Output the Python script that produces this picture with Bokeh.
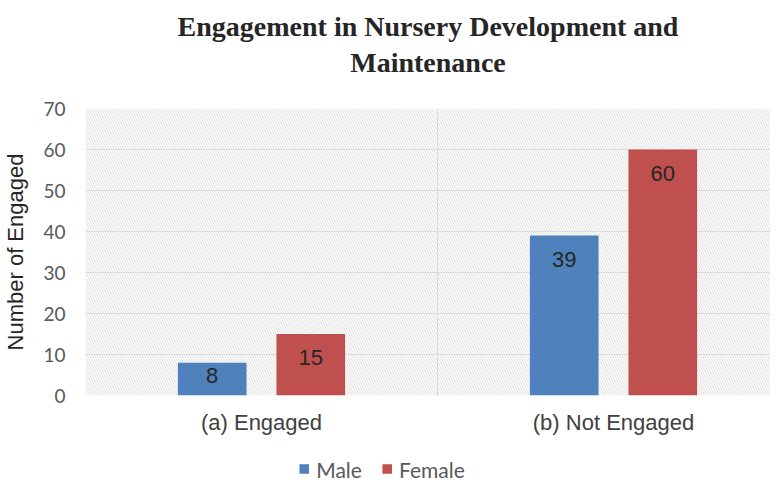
from bokeh.plotting import figure
from bokeh.layouts import column
from bokeh.models import (ColumnDataSource, Range1d, FixedTicker, BoxAnnotation,
                          Legend, LegendItem, LinearAxis)
from bokeh.core.properties import value
from bokeh.embed import file_html
from bokeh.resources import INLINE

# ---- data ----
categories = ["(a) Engaged", "(b) Not Engaged"]
series_names = ["Male", "Female"]
male = [8, 39]
female = [15, 60]
y_ticks = [0, 10, 20, 30, 40, 50, 60, 70]
title_lines = ["Engagement in Nursery Development and", "Maintenance"]
y_label = "Number of Engaged"

# ---- layout constants ----
FRAME_W, FRAME_H = 685, 287
CAT_PX = 352                      # pixel width of one category slot
X_END = FRAME_W / CAT_PX
Y_MAX = 70
colors = ["#4F81BD", "#C0504D"]
offsets = [-0.14, 0.14]
BAR_W = 0.195

p = figure(frame_width=FRAME_W, frame_height=FRAME_H,
           x_range=Range1d(0, X_END), y_range=Range1d(0, Y_MAX),
           output_backend="svg", toolbar_location=None, title=None,
           min_border_left=78, min_border_right=0,
           min_border_top=108, min_border_bottom=60,
           background_fill_color="white", border_fill_color="white",
           outline_line_color=None)

# x axis (category centres) -- configured before any other x axis is added
centers = [i + 0.5 for i in range(len(categories))]
xax = p.below[0]
xax.ticker = FixedTicker(ticks=centers)
xax.major_label_overrides = {c: name for c, name in zip(centers, categories)}
xax.axis_line_color = None
xax.major_tick_line_color = None
xax.minor_tick_line_color = None
xax.major_tick_out = 0
xax.major_label_text_font = "Liberation Sans"
xax.major_label_text_font_size = "22px"
xax.major_label_text_color = "#404040"
xax.major_label_standoff = 14

# two-line centred title, drawn as an unlined axis above the frame
mid = X_END / 2
tax = LinearAxis(ticker=FixedTicker(ticks=[mid]),
                 major_label_overrides={mid: title_lines[1]},
                 axis_label=title_lines[0])
tax.axis_line_color = None
tax.major_tick_line_color = None
tax.minor_tick_line_color = None
tax.major_tick_out = 0
for attr in ("major_label", "axis_label"):
    setattr(tax, attr + "_text_font", "Liberation Serif")
    setattr(tax, attr + "_text_font_size", "28px")
    setattr(tax, attr + "_text_font_style", "bold")
    setattr(tax, attr + "_text_color", "#262626")
tax.major_label_standoff = 31
tax.axis_label_standoff = 2
p.add_layout(tax, "above")

# hatched plot-area background
p.add_layout(BoxAnnotation(fill_alpha=0, line_alpha=0, hatch_pattern="\\",
                           hatch_color="#dedede", hatch_scale=5, hatch_weight=1,
                           level="underlay"))

# grids
p.ygrid.ticker = FixedTicker(ticks=y_ticks)
p.ygrid.grid_line_color = "#dadada"
p.xgrid.ticker = FixedTicker(ticks=list(range(len(categories) + 1)))
p.xgrid.grid_line_color = "#dadada"

# y axis
p.yaxis.ticker = FixedTicker(ticks=y_ticks)
p.yaxis.axis_line_color = None
p.yaxis.major_tick_line_color = None
p.yaxis.minor_tick_line_color = None
p.yaxis.major_label_text_font = "Lato"
p.yaxis.major_label_text_font_size = "19px"
p.yaxis.major_label_text_color = "#595959"
p.yaxis.major_label_standoff = 14
p.yaxis.axis_label = y_label
p.yaxis.axis_label_text_font = "Liberation Sans"
p.yaxis.axis_label_text_font_size = "22px"
p.yaxis.axis_label_text_font_style = "normal"
p.yaxis.axis_label_text_color = "#262626"
p.yaxis.axis_label_standoff = 12

px_per_unit = FRAME_H / Y_MAX
sources = []
for name, vals, col, off in zip(series_names, [male, female], colors, offsets):
    xs = [c + off for c in centers]
    src = ColumnDataSource(dict(
        x=xs, top=vals, lab=[str(v) for v in vals],
        yoff=[min(16, v * px_per_unit - 28) for v in vals]))
    sources.append(src)
    p.vbar(x="x", top="top", width=BAR_W, source=src,
           fill_color=col, line_color=None)
    p.text(x="x", y="top", text="lab", source=src, y_offset="yoff",
           text_align="center", text_baseline="top",
           text_font=value("Liberation Sans"), text_font_size="22px",
           text_color="#262626")

# legend strip below the chart; its proxy renderers lie outside its view
lf = figure(frame_width=FRAME_W, frame_height=27,
            x_range=Range1d(-10, -9), y_range=Range1d(-10, -9),
            x_axis_type=None, y_axis_type=None,
            output_backend="svg", toolbar_location=None, title=None,
            min_border_left=78, min_border_right=0,
            min_border_top=0, min_border_bottom=0,
            background_fill_color="white", border_fill_color="white",
            outline_line_color=None)
lf.grid.visible = False
items = []
for name, col, src in zip(series_names, colors, sources):
    r = lf.vbar(x="x", top="top", width=BAR_W, source=src,
                fill_color=col, line_color=None)
    items.append(LegendItem(label=name, renderers=[r]))
legend = Legend(items=items, orientation="horizontal", location="center",
                glyph_width=12, glyph_height=12, label_standoff=6, spacing=19,
                label_text_font="Lato", label_text_font_size="21px",
                label_text_color="#595959", border_line_color=None,
                background_fill_alpha=0, padding=0, margin=0)
lf.add_layout(legend, "center")

layout = column(p, lf, spacing=0)
open("out.html", "w").write(file_html(layout, INLINE))
